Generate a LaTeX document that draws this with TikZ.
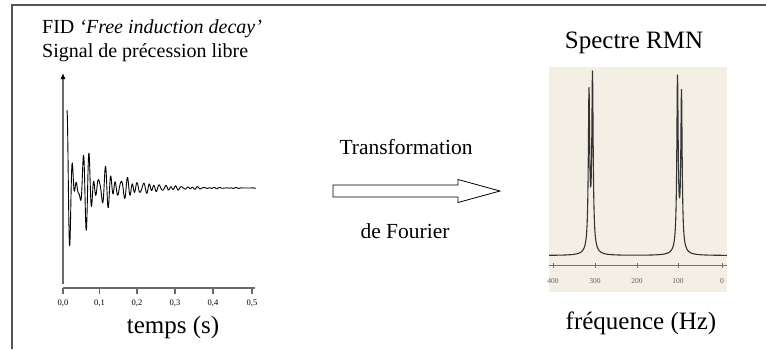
\documentclass[tikz,border=0pt]{standalone}
\usepackage{fontspec}
\setmainfont{Liberation Serif}
\usetikzlibrary{arrows.meta}
\definecolor{framec}{HTML}{555555}
\definecolor{axisc}{HTML}{6A6A6A}
\definecolor{paper}{HTML}{F4EFE4}
\definecolor{speccurve}{HTML}{333333}
\definecolor{ticklab}{HTML}{606060}
\tikzset{
  title/.style={inner sep=0pt, font=\fontsize{20}{24}\selectfont},
  big/.style={inner sep=0pt, font=\fontsize{25}{30}\selectfont},
  mid/.style={inner sep=0pt, font=\fontsize{21.5}{26}\selectfont},
  ticklbl/.style={inner sep=0pt, font=\fontsize{8.5}{10}\selectfont},
  speclbl/.style={inner sep=0pt, text=ticklab, font=\fontsize{7.5}{9}\selectfont},
  axisline/.style={axisc, line width=1.1pt},
}
\begin{document}
\begin{tikzpicture}[x=1pt,y=-1pt]
\useasboundingbox (0,0) rectangle (766,349);
% frame
\draw[framec, line width=1.3pt] (12,349) -- (12,5) -- (766,5);

% ---------- FID ----------
\node[title, anchor=base west] (fid) at (42,33) {FID \textit{`Free induction decay'}};
\node[title, anchor=base west] (sig) at (42,57) {Signal de précession libre};

\coordinate (yb) at (63,284);
\coordinate (yt) at (63,73);
\draw[axisline, -{Latex[length=6pt,width=5pt,color=black]}] (yb) -- (yt);
\coordinate (xl) at (63,288);
\coordinate (xr) at (255,288);
\draw[axisline] (xl) -- (xr);
\foreach \xx/\lab [count=\i] in {63/{0,0},99.5/{0,1},137/{0,2},175/{0,3},213/{0,4},252/{0,5}}{
  \draw[axisline] (\xx,288) -- (\xx,294);
  \node[ticklbl] (t\i) at (\xx,303.5) {\lab};
}
\node[big] (temps) at (173,327) {temps (s)};

\draw[black, line width=0.9pt, line join=round]
  plot[domain=0:189, samples=600]
  ({67+\x}, {188 - 78*exp(-\x/33)*(0.45*cos(\x*66)+0.3*cos(\x*47)+0.25*cos(\x*83))});

% ---------- arrow ----------
\node[mid] (tf) at (406,147) {Transformation};
\node[mid] (df) at (405,231) {de Fourier};
\draw[black, line width=0.8pt, fill=white, line join=miter]
  (333,185) -- (458,185) -- (458,179.5) -- (500,191) -- (458,202.5) -- (458,197) -- (333,197) -- cycle;

% ---------- spectrum ----------
\node[big] (spec) at (634,43) {Spectre RMN};
\fill[paper] (549,67) rectangle (727,292);
\draw[speccurve!70, line width=0.8pt] (549,265) -- (727,265);
\foreach \xx/\lab [count=\i] in {553/400,595/300,637/200,678/100,722/0}{
  \draw[speccurve!70, line width=0.8pt] (\xx,263) -- (\xx,268);
  \node[speclbl] (s\i) at (\xx,281) {\lab};
}
\draw[speccurve, line width=1.1pt, line join=round]
  plot[domain=54.9:72.7, samples=1200]
  ({\x*10}, {255.5 - 166*(0.0064/((\x-59.25)^2+0.0064)) - 150*(0.0064/((\x-58.9)^2+0.0064))
          - 166*(0.0064/((\x-67.75)^2+0.0064)) - 150*(0.0064/((\x-68.15)^2+0.0064))
          - 14*(0.09/((\x-59.1)^2+0.09)) - 14*(0.09/((\x-67.95)^2+0.09))});
\node[big] (freq) at (641,323) {fréquence (Hz)};
\end{tikzpicture}
\end{document}
